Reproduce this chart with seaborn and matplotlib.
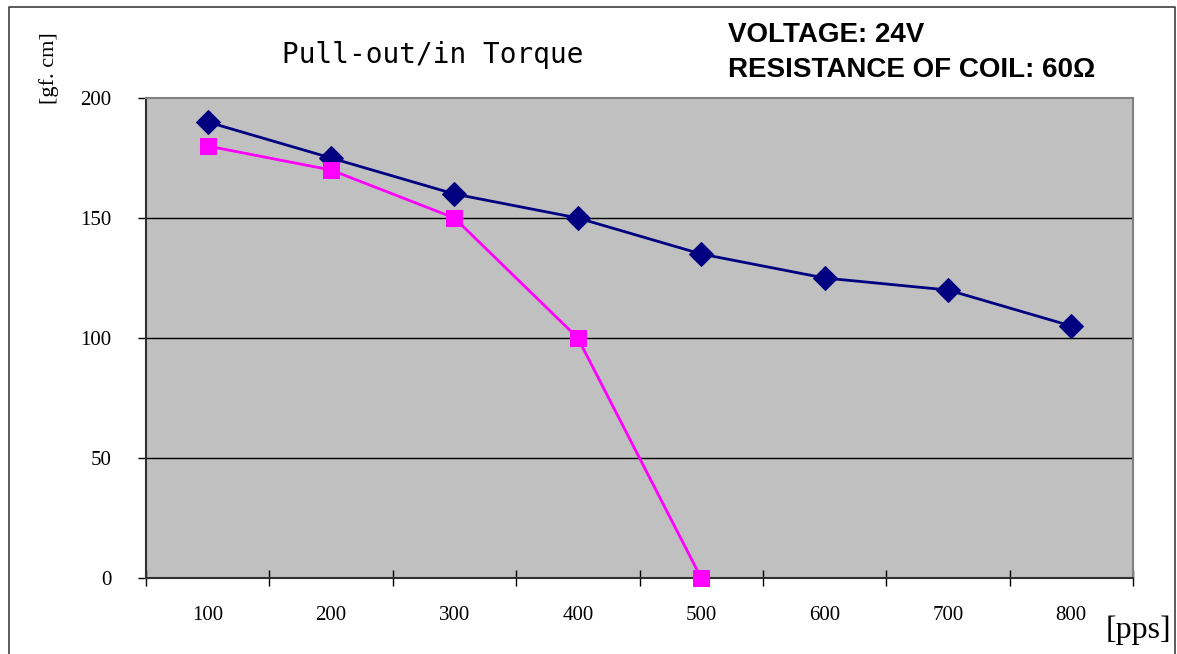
import matplotlib
matplotlib.use("Agg")
import matplotlib.pyplot as plt
import seaborn as sns
import pandas as pd
import numpy as np

speeds = ["100", "200", "300", "400", "500", "600", "700", "800"]
pull_out = [190, 175, 160, 150, 135, 125, 120, 105]
pull_in_speeds = ["100", "200", "300", "400", "500"]
pull_in = [180, 170, 150, 100, 0]
y_ticks = [0, 50, 100, 150, 200]

sns.set_theme(style="white")
plt.rcParams['font.family'] = ['Liberation Serif', 'DejaVu Serif']
plt.rcParams['text.color'] = 'black'
plt.rcParams['xtick.color'] = 'black'
plt.rcParams['ytick.color'] = 'black'

fig = plt.figure(figsize=(11.77, 6.54), dpi=100)
ax = fig.add_axes([146/1177, 1 - 578/654, (1133-146)/1177, (578-98)/654])
ax.set_facecolor("#C0C0C0")

pos = {s: i for i, s in enumerate(speeds)}
df_out = pd.DataFrame({"x": [pos[s] for s in speeds], "y": pull_out})
df_in = pd.DataFrame({"x": [pos[s] for s in pull_in_speeds], "y": pull_in})

for yv in y_ticks[1:-1]:
    ax.axhline(yv, color="black", lw=1.0, zorder=1)

sns.lineplot(data=df_out, x="x", y="y", ax=ax, color="#000080", lw=2,
             marker="D", markersize=12, markeredgecolor="#000080", sort=False, zorder=3, clip_on=False)
sns.lineplot(data=df_in, x="x", y="y", ax=ax, color="#FF00FF", lw=2,
             marker="s", markersize=11, markeredgecolor="#FF00FF", sort=False, zorder=3, clip_on=False)

ax.set_xlim(-0.5, len(speeds) - 0.5)
ax.set_ylim(0, 200)
ax.set_yticks(y_ticks)
ax.set_yticklabels([str(v) for v in y_ticks], fontsize=15, color="black")
ax.set_xticks(range(len(speeds)))
ax.set_xticklabels(speeds, fontsize=15, color="black")
ax.tick_params(axis="x", which="major", length=0, pad=20, bottom=True)
ax.set_xticks(np.arange(-0.5, len(speeds) + 0.5, 1), minor=True)
ax.tick_params(axis="x", which="minor", length=12, direction="inout", width=1,
               color="black", bottom=True)
ax.tick_params(axis="y", which="major", length=6, direction="out", width=1,
               color="black", pad=19, left=True)
ax.set_xlabel("")
ax.set_ylabel("")

for side in ["left", "bottom"]:
    ax.spines[side].set_color("#303030")
    ax.spines[side].set_linewidth(1.5)
for side in ["top", "right"]:
    ax.spines[side].set_color("#808080")
    ax.spines[side].set_linewidth(1.5)

fig.text(433/1177, 1 - 55/654, "Pull-out/in Torque", ha="center", va="center",
         fontsize=20, color="black", family=["DejaVu Sans Mono"])
fig.text(728/1177, 1 - 35/654, "VOLTAGE: 24V", ha="left", va="center",
         fontsize=20, fontweight="bold", color="black", family=["Liberation Sans", "DejaVu Sans"])
fig.text(728/1177, 1 - 70/654, "RESISTANCE OF COIL: 60\u03a9", ha="left", va="center",
         fontsize=20, fontweight="bold", color="black", family=["Liberation Sans", "DejaVu Sans"])
fig.text(49/1177, 1 - 68/654, "[gf. cm]", rotation=90, ha="center", va="center",
         fontsize=16, color="black")
fig.text(1138/1177, 1 - 630/654, "[pps]", ha="center", va="center", fontsize=23, color="black")

# outer frame
fig.add_artist(plt.Line2D([9/1177, 9/1177, 1175/1177, 1175/1177],
                          [0, 1 - 7/654, 1 - 7/654, 0], color="#404040", lw=1.2,
                          transform=fig.transFigure))

fig.savefig("out.png", dpi=100)
